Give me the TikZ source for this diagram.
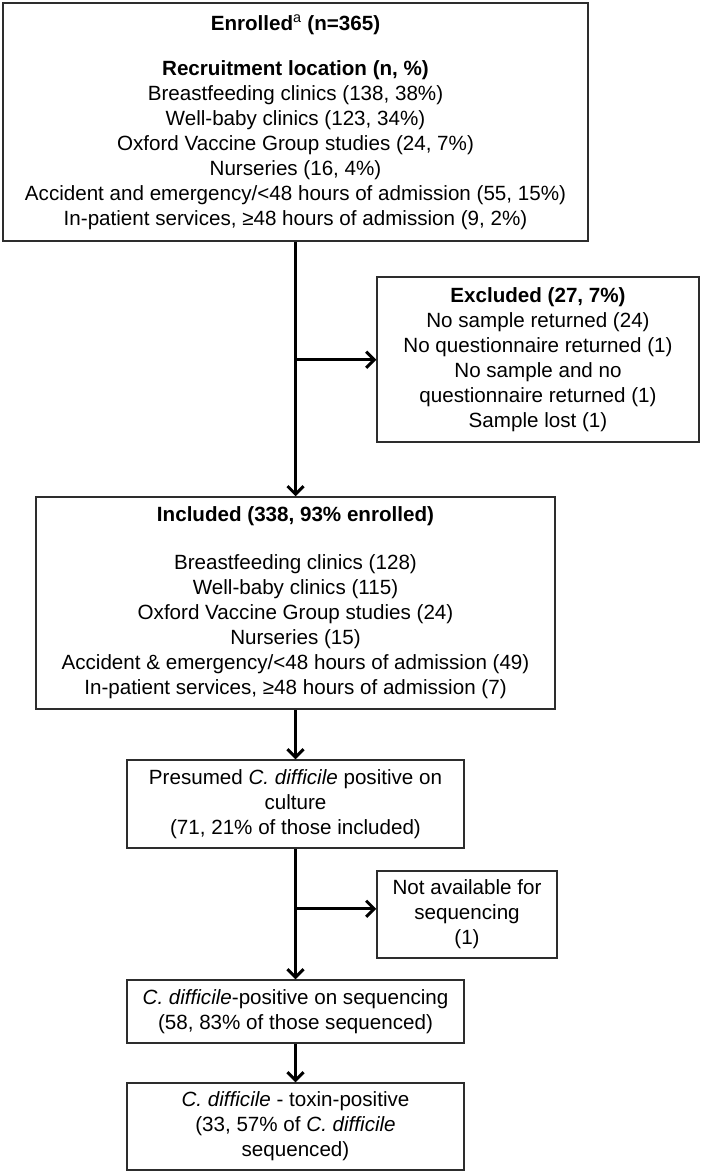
\documentclass[tikz,border=0pt]{standalone}
\usepackage{fontspec}
\setmainfont{Liberation Sans}
\usepackage{tikz}
\usetikzlibrary{arrows.meta,positioning}
\definecolor{boxgray}{RGB}{45,45,45}
\tikzstyle{arrow} = [line width=3pt,-{Straight Barb[length=8pt,width=16pt]}]
\tikzstyle{flowbox} = [rectangle, draw=boxgray, line width=1.5pt, align=center, inner sep=0pt, font=\fontsize{20.6}{25}\selectfont]

\begin{document}
\begin{tikzpicture}[x=1pt, y=1pt]
\useasboundingbox (0,0) rectangle (702,-1174);
% Main flow
\node (enrolled) [flowbox, minimum width=585pt, minimum height=238pt] at (295.5,-122) {\textbf{Enrolled}\textsuperscript{a} \textbf{(n=365)}\\[20pt] \textbf{Recruitment location (n, \%)}\\ Breastfeeding clinics (138, 38\%)\\ Well-baby clinics (123, 34\%)\\ Oxford Vaccine Group studies (24, 7\%)\\ Nurseries (16, 4\%)\\ Accident and emergency/<48 hours of admission (55, 15\%)\\ In-patient services, ≥48 hours of admission (9, 2\%)};
\node (included) [flowbox, below of=enrolled, node distance=481pt, minimum width=519pt, minimum height=212pt] {\textbf{Included (338, 93\% enrolled)}\\[23pt] Breastfeeding clinics (128)\\ Well-baby clinics (115)\\ Oxford Vaccine Group studies (24)\\ Nurseries (15)\\ Accident \& emergency/<48 hours of admission (49)\\ In-patient services, ≥48 hours of admission (7)};
\node (presumed) [flowbox, below of=included, node distance=201pt, minimum width=337pt, minimum height=88pt] {Presumed \textit{C. difficile} positive on\\ culture\\ (71, 21\% of those included)};
\node (sequenced) [flowbox, below of=presumed, node distance=207.5pt, minimum width=337pt, minimum height=63pt] {\textit{C. difficile}-positive on sequencing\\ (58, 83\% of those sequenced)};
\node (toxin) [flowbox, below of=sequenced, node distance=115pt, minimum width=337pt, minimum height=87pt] {\textit{C. difficile} - toxin-positive\\ (33, 57\% of \textit{C. difficile}\\ sequenced)};

% Side boxes
\node (excluded) [flowbox, minimum width=322pt, minimum height=165pt] at (538,-359.5) {\textbf{Excluded (27, 7\%)}\\ No sample returned (24)\\ No questionnaire returned (1)\\ No sample and no\\ questionnaire returned (1)\\ Sample lost (1)};
\node (notavail) [flowbox, minimum width=180pt, minimum height=87pt] at (467,-914.5) {Not available for\\ sequencing\\ (1)};

% Arrows
\coordinate[below=118pt of enrolled.south] (split1);
\coordinate[below=60pt of presumed.south] (split2);
\draw[arrow] (enrolled.south) -- (included.north);
\draw[arrow] (split1) -- (split1 -| excluded.west);
\draw[arrow] (included.south) -- (presumed.north);
\draw[arrow] (presumed.south) -- (sequenced.north);
\draw[arrow] (split2) -- (split2 -| notavail.west);
\draw[arrow] (sequenced.south) -- (toxin.north);
\end{tikzpicture}
\end{document}
